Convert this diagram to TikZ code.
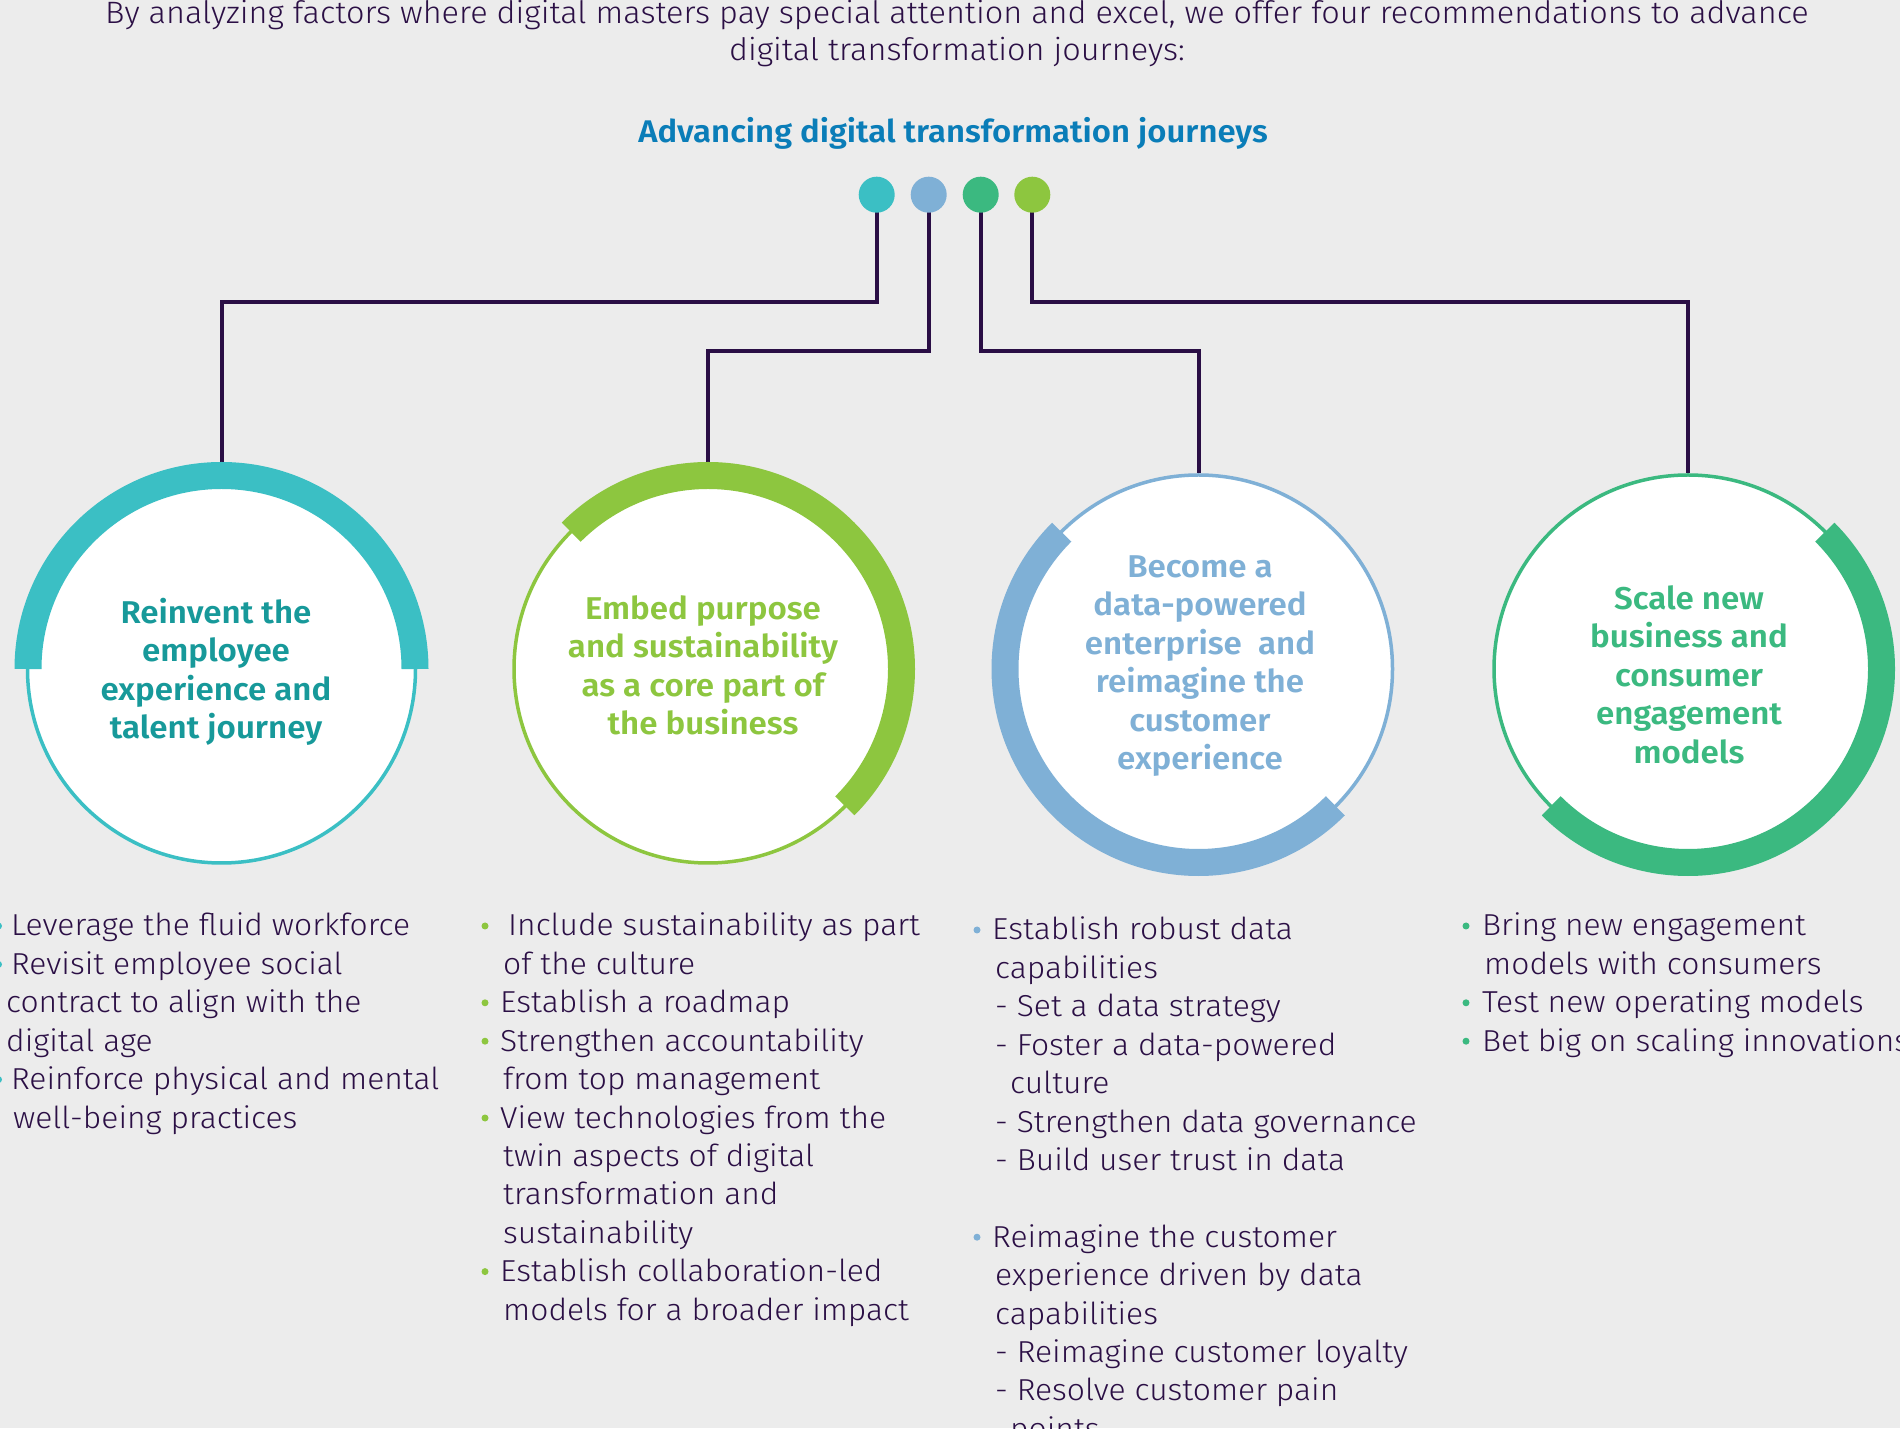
\documentclass[tikz,border=0pt]{standalone}
\usepackage{fontspec}
\setmainfont{Fira Sans}[UprightFont={* Light},BoldFont={* SemiBold},FakeStretch=1.05]
\usetikzlibrary{calc}
\definecolor{bg}{HTML}{ECECEC}
\definecolor{cteal}{HTML}{3BBFC4}
\definecolor{cblue}{HTML}{7FB0D6}
\definecolor{cgreen}{HTML}{3BB980}
\definecolor{clime}{HTML}{8DC63F}
\definecolor{tealtxt}{HTML}{17999A}
\definecolor{headc}{HTML}{0A7DB8}
\definecolor{txt}{HTML}{2B0F45}
\definecolor{linec}{HTML}{2A0E45}
\begin{document}
\begin{tikzpicture}[x=1pt,y=1pt,
  conn/.style={draw=linec, line width=4pt},
  dotn/.style={circle, inner sep=0pt, minimum size=36pt},
  ring/.style={circle, inner sep=0pt, minimum size=388pt, fill=white, line width=3.5pt},
  band/.style={line width=27pt},
  ctext/.style={font=\fontsize{31.5}{38.5}\selectfont\bfseries, align=center, inner sep=0pt},
  body/.style={font=\fontsize{30.3}{38}\selectfont, text=txt, anchor=base west, inner sep=0pt}]
\path[use as bounding box, fill=bg] (0,0) rectangle (1900,1428);
\clip (0,0) rectangle (1900,1428);
% header
\node[font=\fontsize{30.9}{37}\selectfont, text=txt, anchor=base, inner sep=0pt] (intro1) at (957,1404) {By analyzing factors where digital masters pay special attention and excel, we offer four recommendations to advance};
\node[font=\fontsize{30.9}{37}\selectfont, text=txt, anchor=base, inner sep=0pt] (intro2) at (957,1367) {digital transformation journeys:};
\node[font=\fontsize{31.3}{38}\selectfont\bfseries, text=headc, anchor=base, inner sep=0pt] (head) at (953,1285) {Advancing digital transformation journeys};
% coordinates for horizontal runs
\coordinate (h1) at (0,1126);
\coordinate (h2) at (0,1077);
% dots
\node[dotn] (d1) at (876.7,1233.3) {};
\node[dotn] (d2) at (928.7,1233.3) {};
\node[dotn] (d3) at (980.7,1233.3) {};
\node[dotn] (d4) at (1032.3,1233.3) {};
% circles
\node[ring, draw=cteal] (c1) at (221.5,759) {};
\node[ring, draw=clime] (c2) at (708,759) {};
\node[ring, draw=cblue] (c3) at (1198.5,759) {};
\node[ring, draw=cgreen] (c4) at (1688,759) {};
% connectors
\draw[conn] (d1.center) -- (d1.center |- h1) -| (c1.north);
\draw[conn] (d2.center) -- (d2.center |- h2) -| (c2.north);
\draw[conn] (d3.center) -- (d3.center |- h2) -| (c3.north);
\draw[conn] (d4.center) -- (d4.center |- h1) -| (c4.north);
\fill[cteal] (d1) circle[radius=18pt];
\fill[cblue] (d2) circle[radius=18pt];
\fill[cgreen] (d3) circle[radius=18pt];
\fill[clime] (d4) circle[radius=18pt];
% thick bands
\draw[band, cteal] ($(c1.center)+(0:193.5)$) arc[start angle=0,end angle=180,radius=193.5pt];
\draw[band, clime] ($(c2.center)+(135:193.5)$) arc[start angle=135,end angle=-45,radius=193.5pt];
\draw[band, cblue] ($(c3.center)+(135:193.5)$) arc[start angle=135,end angle=315,radius=193.5pt];
\draw[band, cgreen] ($(c4.center)+(45:193.5)$) arc[start angle=45,end angle=-135,radius=193.5pt];
% circle texts
\node[ctext, text=tealtxt] (t1) at (216,756) {Reinvent the\\employee\\experience and\\talent journey};
\node[ctext, text=clime] (t2) at (703,762.5) {Embed purpose\\and sustainability\\as a core part of\\the business};
\node[ctext, text=cblue] (t3) at (1200,762) {Become a\\data-powered\\enterprise\ \ and\\reimagine the\\customer\\experience};
\node[ctext, text=cgreen] (t4) at (1689,753.5) {Scale new\\business and\\consumer\\engagement\\models};
% column 1
\fill[cteal] (-1.5,502) circle[radius=3.5pt] (-1.5,463.6) circle[radius=3.5pt] (-1.5,348.4) circle[radius=3.5pt];
\node[body] (la1) at (11,492) {Leverage the fluid workforce};
\node[body] (la2) at (11,453.6) {Revisit employee social};
\node[body] (la3) at (6,415.2) {contract to align with the};
\node[body] (la4) at (6,376.8) {digital age};
\node[body] (la5) at (11,338.4) {Reinforce physical and mental};
\node[body] (la6) at (13,300) {well-being practices};
% column 2
\fill[clime] (485,502) circle[radius=3.5pt] (485,425.2) circle[radius=3.5pt] (485,386.8) circle[radius=3.5pt] (485,310) circle[radius=3.5pt] (485,156.4) circle[radius=3.5pt];
\node[body] (lb1) at (508,492) {Include sustainability as part};
\node[body] (lb2) at (503,453.6) {of the culture};
\node[body] (lb3) at (500,415.2) {Establish a roadmap};
\node[body] (lb4) at (500,376.8) {Strengthen accountability};
\node[body] (lb5) at (503,338.4) {from top management};
\node[body] (lb6) at (500,300) {View technologies from the};
\node[body] (lb7) at (503,261.6) {twin aspects of digital};
\node[body] (lb8) at (503,223.2) {transformation and};
\node[body] (lb9) at (503,184.8) {sustainability};
\node[body] (lb10) at (500,146.4) {Establish collaboration-led};
\node[body] (lb11) at (503,108) {models for a broader impact};
% column 3
\fill[cblue] (977,498) circle[radius=3.5pt] (977,190.8) circle[radius=3.5pt];
\node[body] (lc1) at (992,488) {Establish robust data};
\node[body] (lc2) at (995,449.6) {capabilities};
\node[body] (lc3) at (995,411.2) {- Set a data strategy};
\node[body] (lc4) at (995,372.8) {- Foster a data-powered};
\node[body] (lc5) at (1010,334.4) {culture};
\node[body] (lc6) at (995,296) {- Strengthen data governance};
\node[body] (lc7) at (995,257.6) {- Build user trust in data};
\node[body] (lc8) at (992,180.8) {Reimagine the customer};
\node[body] (lc9) at (995,142.4) {experience driven by data};
\node[body] (lc10) at (995,104) {capabilities};
\node[body] (lc11) at (995,65.6) {- Reimagine customer loyalty};
\node[body] (lc12) at (995,27.2) {- Resolve customer pain};
\node[body] (lc13) at (1010,-11.2) {points};
% column 4
\fill[cgreen] (1466,502) circle[radius=3.5pt] (1466,425.2) circle[radius=3.5pt] (1466,386.8) circle[radius=3.5pt];
\node[body] (ld1) at (1482,492) {Bring new engagement};
\node[body] (ld2) at (1484,453.6) {models with consumers};
\node[body] (ld3) at (1482,415.2) {Test new operating models};
\node[body] (ld4) at (1482,376.8) {Bet big on scaling innovations};
\end{tikzpicture}
\end{document}
